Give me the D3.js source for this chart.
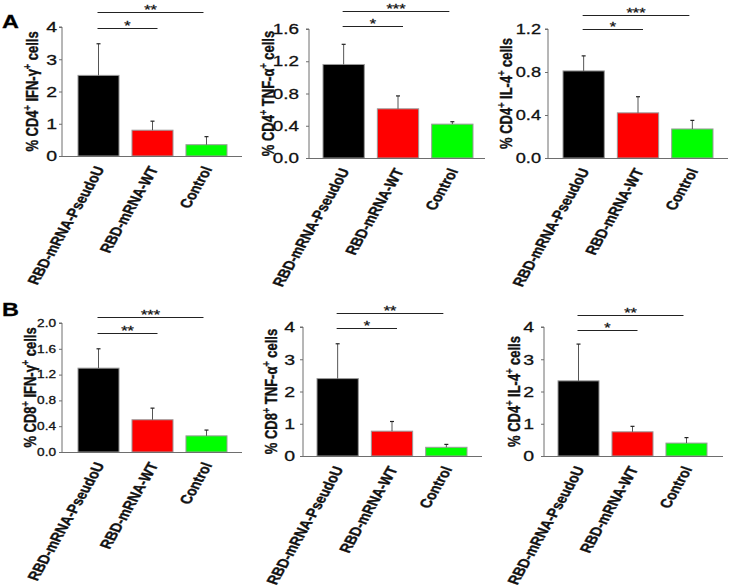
<!DOCTYPE html>
<html>
<head>
<meta charset="utf-8">
<script src="https://cdn.jsdelivr.net/npm/d3@7"></script>
<style>
  html, body { margin: 0; padding: 0; background: #fff; }
  svg { display: block; font-family: "Liberation Sans", Arial, sans-serif; }
  svg text { stroke: #111; stroke-width: 0.3px; }
</style>
</head>
<body>
<svg id="chart" width="729" height="587"></svg>
<script>
// ---------- data ----------
const categories = ["RBD-mRNA-PseudoU", "RBD-mRNA-WT", "Control"];
const barColors = ["#000000", "#ff0000", "#00ff00"];

const a1Means = [2.5, 0.8, 0.35];
const a1Errors = [0.98, 0.28, 0.25];
const a1Ticks = [0, 1, 2, 3, 4];

const a2Means = [1.16, 0.61, 0.42];
const a2Errors = [0.25, 0.16, 0.03];
const a2Ticks = [0.0, 0.4, 0.8, 1.2, 1.6];

const a3Means = [0.81, 0.42, 0.27];
const a3Errors = [0.14, 0.15, 0.08];
const a3Ticks = [0.0, 0.4, 0.8, 1.2];

const b1Means = [1.3, 0.5, 0.25];
const b1Errors = [0.3, 0.18, 0.09];
const b1Ticks = [0.0, 0.4, 0.8, 1.2, 1.6, 2.0];

const b2Means = [2.4, 0.77, 0.27];
const b2Errors = [1.08, 0.3, 0.09];
const b2Ticks = [0, 1, 2, 3, 4];

const b3Means = [2.33, 0.75, 0.4];
const b3Errors = [1.14, 0.17, 0.17];
const b3Ticks = [0, 1, 2, 3, 4];

const yLabels = [
  ["CD4", "IFN-γ"], ["CD4", "TNF-α"], ["CD4", "IL-4"],
  ["CD8", "IFN-γ"], ["CD8", "TNF-α"], ["CD4", "IL-4"]
];
const sigShort = ["*", "*", "*", "**", "*", "*"];
const sigLong = ["**", "***", "***", "***", "**", "**"];
const tickDigits = [0, 1, 1, 1, 0, 0];

// ---------- layout ----------
const SX = 1.3; // horizontal stretch of the original figure's text
const panels = [
  {means: a1Means, errs: a1Errors, ticks: a1Ticks, axisX: 62, yTop: 27, yBot: 156, bx: [78, 227], axisEnd: 242, labelX: 32, sy: [28, 12], tf: 15, tg: 5},
  {means: a2Means, errs: a2Errors, ticks: a2Ticks, axisX: 309, yTop: 29, yBot: 158, bx: [323, 473], axisEnd: 485, labelX: 268, sy: [26, 11], tf: 14.5, tg: 10},
  {means: a3Means, errs: a3Errors, ticks: a3Ticks, axisX: 548, yTop: 29, yBot: 158, bx: [563, 713], axisEnd: 728, labelX: 506, sy: [29, 15], tf: 14, tg: 7},
  {means: b1Means, errs: b1Errors, ticks: b1Ticks, axisX: 62, yTop: 323, yBot: 452, bx: [78, 227], axisEnd: 242, labelX: 30, sy: [333, 317], tf: 10.5, tg: 6},
  {means: b2Means, errs: b2Errors, ticks: b2Ticks, axisX: 303, yTop: 327, yBot: 456, bx: [317, 467], axisEnd: 482, labelX: 271, sy: [328, 313], tf: 15, tg: 8},
  {means: b3Means, errs: b3Errors, ticks: b3Ticks, axisX: 544, yTop: 327, yBot: 456, bx: [558, 707], axisEnd: 723, labelX: 514, sy: [330, 315], tf: 15, tg: 10}
];

const svg = d3.select("#chart");
const axisColor = "#6e6e6e";

panels.forEach((p, i) => {
  const g = svg.append("g");
  const y = d3.scaleLinear()
    .domain([0, p.ticks[p.ticks.length - 1]])
    .range([p.yBot, p.yTop]);
  const x = d3.scaleBand()
    .domain(categories)
    .range(p.bx)
    .paddingInner(0.24)
    .paddingOuter(0);

  // y axis
  const yAxis = d3.axisLeft(y)
    .tickValues(p.ticks)
    .tickSize(3)
    .tickPadding(3)
    .tickFormat(d3.format("." + tickDigits[i] + "f"));
  const ya = g.append("g").attr("transform", `translate(${p.axisX},0)`).call(yAxis);
  ya.attr("font-size", null);
  ya.select(".domain").attr("stroke", axisColor).attr("d", `M-3,${p.yTop}H0V${p.yBot}`);
  ya.selectAll(".tick line").attr("stroke", axisColor);
  ya.selectAll(".tick text")
    .attr("x", null)
    .attr("transform", `translate(${-p.tg},0) scale(${SX},1)`)
    .attr("fill", "#111")
    .attr("font-size", p.tf)
    .style("font-size", p.tf + "px")
    .style("font-family", "'Liberation Sans', Arial, sans-serif");

  // bars
  g.selectAll("rect.bar")
    .data(categories)
    .join("rect")
    .attr("class", "bar")
    .attr("x", d => x(d))
    .attr("width", x.bandwidth())
    .attr("y", (d, j) => y(p.means[j]))
    .attr("height", (d, j) => p.yBot - y(p.means[j]))
    .attr("fill", (d, j) => barColors[j])
    .attr("stroke", "#9a9a9a")
    .attr("stroke-width", 1);

  // error bars (upper only)
  categories.forEach((c, j) => {
    const cx = x(c) + x.bandwidth() / 2;
    const top = y(p.means[j] + p.errs[j]);
    g.append("line")
      .attr("x1", cx).attr("x2", cx)
      .attr("y1", y(p.means[j])).attr("y2", top)
      .attr("stroke", "#555").attr("stroke-width", 1);
    g.append("line")
      .attr("x1", cx - 2).attr("x2", cx + 2)
      .attr("y1", top).attr("y2", top)
      .attr("stroke", "#222").attr("stroke-width", 1.2);
  });

  // x axis baseline
  g.append("line")
    .attr("x1", p.axisX).attr("x2", p.axisEnd)
    .attr("y1", p.yBot + 0.5).attr("y2", p.yBot + 0.5)
    .attr("stroke", axisColor).attr("stroke-width", 1);

  // x labels
  categories.forEach((c, j) => {
    const cx = x(c) + x.bandwidth() / 2;
    g.append("text")
      .attr("transform", `translate(${cx + 1},${p.yBot + 11}) scale(${SX},1) rotate(-66)`)
      .attr("text-anchor", "end")
      .attr("dy", "0.35em")
      .style("font-size", "12.5px")
      .style("font-weight", "bold")
      .attr("fill", "#111")
      .text(c);
  });

  // y label
  const yl = g.append("text")
    .attr("transform", `translate(${p.labelX},${(p.yTop + p.yBot) / 2}) scale(${SX},1) rotate(-90)`)
    .attr("text-anchor", "middle")
    .attr("dy", "0.35em")
    .style("font-size", "13px")
    .style("font-weight", "bold")
    .attr("fill", "#111");
  yl.append("tspan").text("% " + yLabels[i][0]);
  yl.append("tspan").attr("dy", "-5").style("font-size", "9px").text("+");
  yl.append("tspan").attr("dy", "5").text(" " + yLabels[i][1]);
  yl.append("tspan").attr("dy", "-5").style("font-size", "9px").text("+");
  yl.append("tspan").attr("dy", "5").text(" cells");

  // significance brackets
  const c0 = x(categories[0]) + x.bandwidth() / 2;
  const c1 = x(categories[1]) + x.bandwidth() / 2;
  const c2 = x(categories[2]) + x.bandwidth() / 2;
  const brackets = [
    {x1: c0 - 1, x2: c1 + 5, yy: p.sy[0], label: sigShort[i]},
    {x1: c0 - 1, x2: c2 - 3, yy: p.sy[1], label: sigLong[i]}
  ];
  brackets.forEach(b => {
    g.append("line")
      .attr("x1", b.x1).attr("x2", b.x2)
      .attr("y1", b.yy + 0.5).attr("y2", b.yy + 0.5)
      .attr("stroke", "#222").attr("stroke-width", 1);
    g.append("text")
      .attr("transform", `translate(${(b.x1 + b.x2) / 2},${b.yy + 1.5}) scale(${SX},1)`)
      .attr("text-anchor", "middle")
      .style("font-size", "12.5px")
      .attr("fill", "#111")
      .text(b.label);
  });
});

// panel letters
svg.append("text").attr("transform", `translate(2,28) scale(${SX},1)`)
  .style("font-size", "18px").style("font-weight", "bold").text("A");
svg.append("text").attr("transform", `translate(2,316) scale(${SX},1)`)
  .style("font-size", "18px").style("font-weight", "bold").text("B");
</script>
</body>
</html>
